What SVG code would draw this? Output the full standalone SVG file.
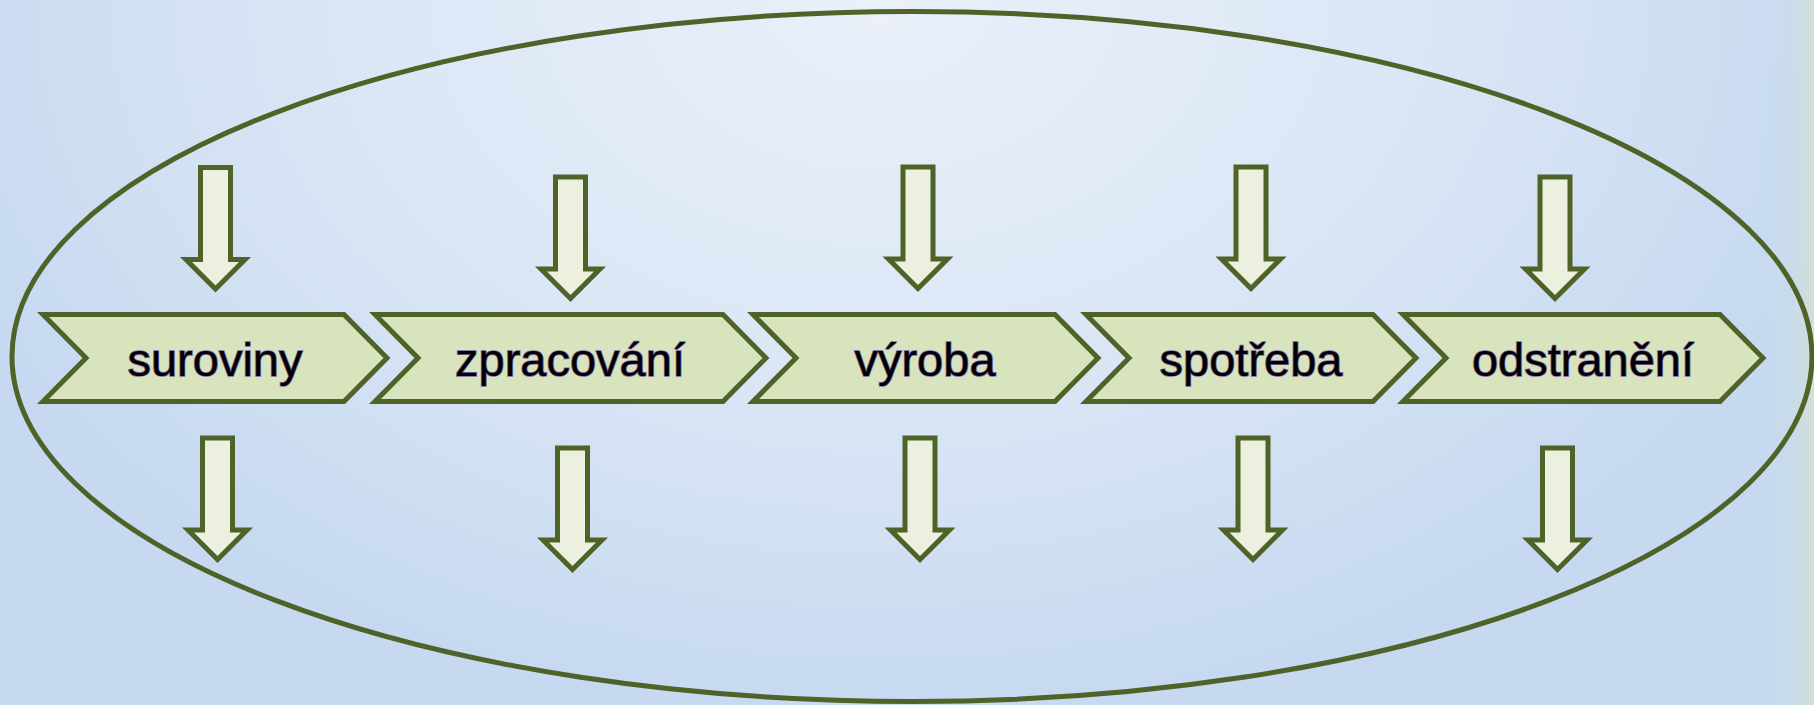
<svg xmlns="http://www.w3.org/2000/svg" xmlns:xlink="http://www.w3.org/1999/xlink" width="1814" height="705" viewBox="0 0 1814 705">
  <defs>
    <radialGradient id="bg" gradientUnits="userSpaceOnUse" cx="880" cy="0" r="1000" gradientTransform="translate(880 0) scale(1 0.72) translate(-880 0)">
      <stop offset="0" stop-color="#EBF0F9"/>
      <stop offset="0.55" stop-color="#DAE6F5"/>
      <stop offset="1" stop-color="#C6D9F1"/>
    </radialGradient>
    <linearGradient id="edge" x1="0" y1="0" x2="1" y2="0">
      <stop offset="0" stop-color="#C6D9F1" stop-opacity="0"/>
      <stop offset="1" stop-color="#CFE0D8"/>
    </linearGradient>
    <path id="arrow" d="M-15,0 H15 V92 H29.5 L0,121.5 L-29.5,92 H-15 Z"/>
    <style>
      .chev { fill: #D7E4BD; stroke: #4F6228; stroke-width: 5; stroke-linejoin: miter; }
      .arr { fill: #EBF1DE; stroke: #4F6228; stroke-width: 5; stroke-linejoin: miter; }
      .lbl { font-family: "Liberation Sans", Arial, sans-serif; font-size: 47px; fill: #000000; stroke: #8064A2; stroke-width: 1.6; paint-order: stroke; text-anchor: middle; }
    </style>
  </defs>

  <rect x="0" y="0" width="1814" height="705" fill="url(#bg)"/>
  <rect x="1760" y="0" width="54" height="705" fill="url(#edge)"/>

  <ellipse id="cycle" cx="912" cy="356.5" rx="900" ry="345" fill="none" stroke="#4F6228" stroke-width="5"/>

  <g id="connectors">
    <g id="in1"><use xlink:href="#arrow" class="arr" transform="translate(215.5 167.5)"/></g>
    <g id="in2"><use xlink:href="#arrow" class="arr" transform="translate(570.5 177)"/></g>
    <g id="in3"><use xlink:href="#arrow" class="arr" transform="translate(918 167)"/></g>
    <g id="in4"><use xlink:href="#arrow" class="arr" transform="translate(1251 167)"/></g>
    <g id="in5"><use xlink:href="#arrow" class="arr" transform="translate(1555 177)"/></g>
    <g id="out1"><use xlink:href="#arrow" class="arr" transform="translate(217.5 438)"/></g>
    <g id="out2"><use xlink:href="#arrow" class="arr" transform="translate(572.5 448)"/></g>
    <g id="out3"><use xlink:href="#arrow" class="arr" transform="translate(920 438)"/></g>
    <g id="out4"><use xlink:href="#arrow" class="arr" transform="translate(1253 438)"/></g>
    <g id="out5"><use xlink:href="#arrow" class="arr" transform="translate(1557.5 448)"/></g>
  </g>

  <g id="suroviny">
    <polygon class="chev" points="43,314.5 344,314.5 387,358 344,401.5 43,401.5 86,358"/>
    <text class="lbl" x="215" y="376">suroviny</text>
  </g>
  <g id="zpracovani">
    <polygon class="chev" points="375,314.5 723,314.5 766,358 723,401.5 375,401.5 418,358"/>
    <text class="lbl" x="570" y="376">zpracování</text>
  </g>
  <g id="vyroba">
    <polygon class="chev" points="753,314.5 1055,314.5 1098,358 1055,401.5 753,401.5 796,358"/>
    <text class="lbl" x="925" y="376">výroba</text>
  </g>
  <g id="spotreba">
    <polygon class="chev" points="1086,314.5 1373,314.5 1416,358 1373,401.5 1086,401.5 1129,358"/>
    <text class="lbl" x="1251" y="376">spotřeba</text>
  </g>
  <g id="odstraneni">
    <polygon class="chev" points="1403,314.5 1720,314.5 1763,358 1720,401.5 1403,401.5 1446,358"/>
    <text class="lbl" x="1583" y="376">odstranění</text>
  </g>
</svg>
